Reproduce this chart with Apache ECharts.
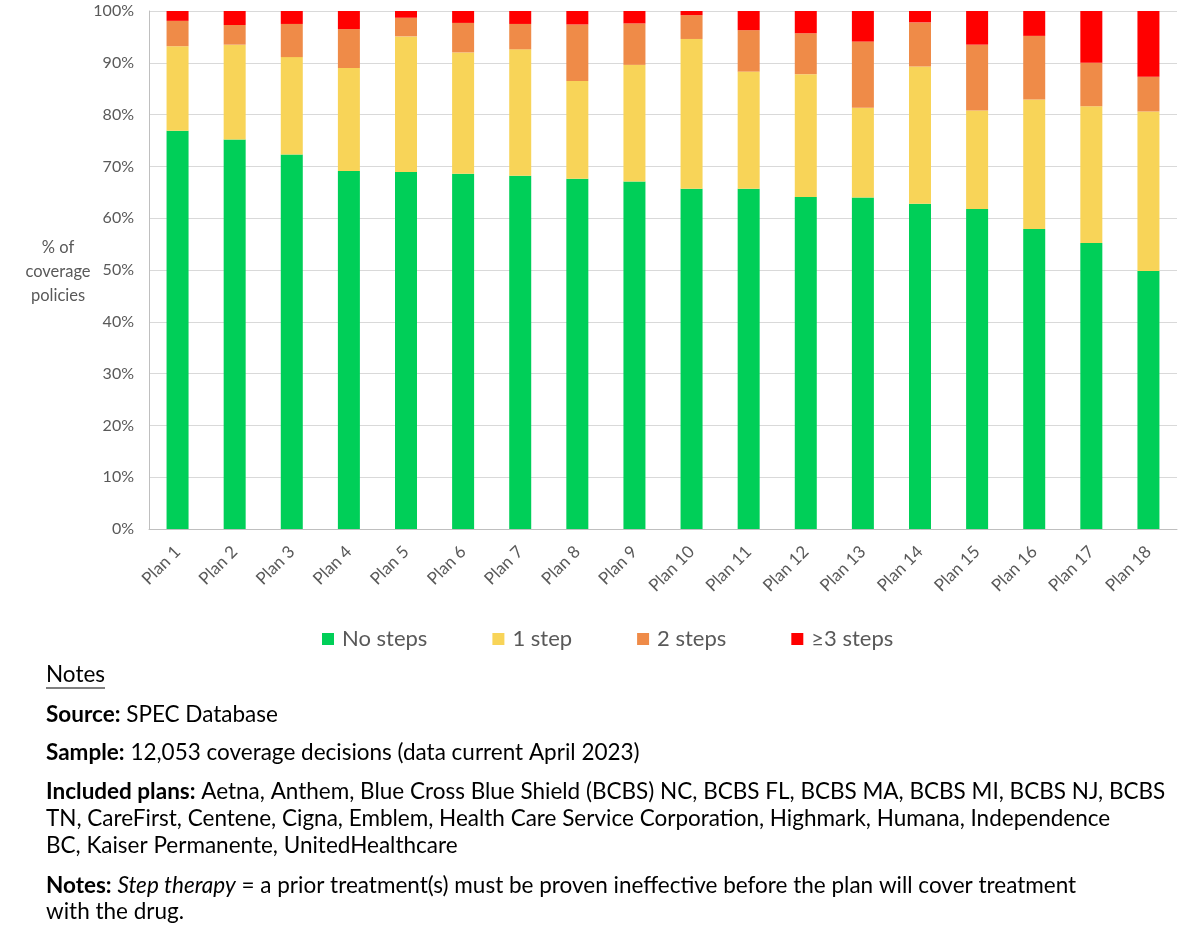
<!DOCTYPE html>
<html>
<head>
<meta charset="utf-8">
<script src="https://cdn.jsdelivr.net/npm/echarts@6/dist/echarts.min.js"></script>
<style>
html,body{margin:0;padding:0;background:#fff;}
#chart{width:1200px;height:932px;}
</style>
</head>
<body>
<div id="chart"></div>
<script>
const categories = ['Plan 1','Plan 2','Plan 3','Plan 4','Plan 5','Plan 6','Plan 7','Plan 8','Plan 9','Plan 10','Plan 11','Plan 12','Plan 13','Plan 14','Plan 15','Plan 16','Plan 17','Plan 18'];
const noSteps   = [76.9, 75.2, 72.3, 69.1, 68.9, 68.6, 68.2, 67.6, 67.1, 65.7, 65.7, 64.1, 64.0, 62.8, 61.8, 57.9, 55.2, 49.8];
const oneStep   = [16.3, 18.3, 18.8, 19.9, 26.2, 23.4, 24.4, 18.9, 22.5, 28.9, 22.6, 23.7, 17.3, 26.5, 19.0, 25.0, 26.4, 30.8];
const twoSteps  = [4.9, 3.8, 6.4, 7.5, 3.6, 5.7, 4.9, 10.9, 8.0, 4.6, 8.0, 7.9, 12.8, 8.5, 12.7, 12.3, 8.4, 6.7];
const threePlus = [1.9, 2.7, 2.5, 3.5, 1.3, 2.3, 2.5, 2.6, 2.4, 0.8, 3.7, 4.3, 5.9, 2.2, 6.5, 4.8, 10.0, 12.7];
const seriesNames = ['No steps', '1 step', '2 steps', '\u22653 steps'];
const yTicks = {min: 0, max: 100, interval: 10};
const yAxisTitle = '% of\ncoverage\npolicies';
const noteHeading = 'Notes';

const FONT = 'Lato, "Open Sans", sans-serif';
const colors = ['#00CF58', '#F8D458', '#EF8B48', '#FF0000'];
const chart = echarts.init(document.getElementById('chart'), null, {renderer: 'canvas'});

const mk = (name, data, color) => ({
  name, type: 'bar', stack: 'total', data, barWidth: 22,
  itemStyle: {color}, emphasis: {disabled: true}
});

const NFS = 22.5;
const rich = {
  b: {fontFamily: FONT, fontSize: NFS, fontWeight: 'bold', color: '#000'},
  i: {fontFamily: FONT, fontSize: NFS, fontStyle: 'italic', color: '#000'}
};
function noteLine(y, text) {
  return {type: 'text', x: 46, y: y, style: {text, rich, fontFamily: FONT, fontSize: NFS, fill: '#000', verticalAlign: 'middle', align: 'left'}};
}

chart.setOption({
  animation: false,
  backgroundColor: '#fff',
  textStyle: {fontFamily: FONT},
  grid: {left: 149, right: 23, top: 11, bottom: 403, containLabel: false},
  legend: {
    data: seriesNames, left: 317, top: 623, itemWidth: 12, itemHeight: 12, itemGap: 65,
    icon: 'rect', textStyle: {fontFamily: FONT, fontSize: 22, color: '#595959', padding: [0, 0, 0, 3]}
  },
  xAxis: {
    type: 'category', data: categories,
    axisLine: {lineStyle: {color: '#BFBFBF', width: 1}},
    axisTick: {show: false},
    axisLabel: {rotate: 45, fontSize: 17, color: '#595959', fontFamily: FONT, margin: 20, interval: 0}
  },
  yAxis: {
    type: 'value', min: yTicks.min, max: yTicks.max, interval: yTicks.interval,
    axisLine: {show: true, lineStyle: {color: '#BFBFBF'}},
    axisTick: {show: false},
    splitLine: {lineStyle: {color: '#D9D9D9'}},
    axisLabel: {formatter: '{value}%', fontSize: 16, color: '#595959', fontFamily: FONT, margin: 15}
  },
  series: [
    mk(seriesNames[0], noSteps, colors[0]),
    mk(seriesNames[1], oneStep, colors[1]),
    mk(seriesNames[2], twoSteps, colors[2]),
    mk(seriesNames[3], threePlus, colors[3])
  ],
  graphic: [
    {type: 'text', x: 58, y: 272, style: {text: yAxisTitle, fontFamily: FONT, fontSize: 16.5, fill: '#595959', align: 'center', verticalAlign: 'middle', lineHeight: 24}},
    noteLine(675, noteHeading),
    {type: 'line', shape: {x1: 46, y1: 688, x2: 105, y2: 688}, style: {stroke: '#000', lineWidth: 1}},
    noteLine(715, '{b|Source:} SPEC Database'),
    noteLine(753, '{b|Sample:} 12,053 coverage decisions (data current April 2023)'),
    noteLine(792, '{b|Included plans:} Aetna, Anthem, Blue Cross Blue Shield (BCBS) NC, BCBS FL, BCBS MA, BCBS MI, BCBS NJ, BCBS'),
    noteLine(819, 'TN, CareFirst, Centene, Cigna, Emblem, Health Care Service Corporation, Highmark, Humana, Independence'),
    noteLine(846, 'BC, Kaiser Permanente, UnitedHealthcare'),
    noteLine(886, '{b|Notes:} {i|Step therapy} = a prior treatment(s) must be proven ineffective before the plan will cover treatment'),
    noteLine(912, 'with the drug.')
  ]
});
</script>
</body>
</html>
